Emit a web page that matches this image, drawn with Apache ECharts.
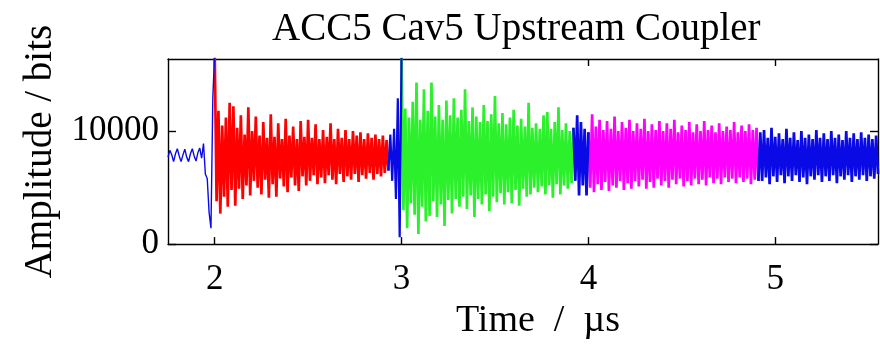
<!DOCTYPE html>
<html>
<head>
<meta charset="utf-8">
<script src="https://cdn.jsdelivr.net/npm/echarts@6/dist/echarts.min.js"></script>
<style>
  html, body { margin: 0; padding: 0; background: #ffffff; }
  #chart { width: 880px; height: 345px; }
</style>
</head>
<body>
<div id="chart"></div>
<script>
// Coupler probe waveform, sampled every 0.01 µs, split into the coloured sections.
const sampleStep = 0.01;            // µs between samples
const xTicks = [2, 3, 4, 5];        // µs
const yTicks = [0, 10000];          // bits

// Lead-in before the first pulse (blue)
const leadStart = 1.75;
const leadVals = [
  7700, 8300, 7900, 7300, 8000, 8450, 7800, 7300, 7900, 8400,
  7700, 7300, 8000, 8450, 7800, 7350, 8100, 8500, 7600, 8900,
  6200, 5800, 2800, 1400, 13000, 17000
];

// First pulse (red)
const redStart = 2.00;
const redVals = [
  17000, 3800, 11800, 2700, 10500, 4200, 11200, 3300, 12500, 4800,
  12200, 3400, 10300, 4900, 11400, 4000, 9700, 5200, 12100, 4300,
  10000, 5600, 11300, 5000, 9600, 4400, 10800, 5700, 9400, 4100,
  11500, 5300, 9500, 4200, 10700, 5800, 9300, 5100, 11100, 4600,
  9600, 5900, 10400, 5200, 9300, 4700, 10900, 6000, 9500, 5200,
  11000, 5600, 9400, 6100, 10600, 5300, 9300, 5900, 10100, 5400,
  9500, 6100, 10700, 5700, 9300, 5300, 10200, 6200, 9400, 5500,
  10100, 6000, 9300, 5700, 10000, 6200, 9600, 5500, 9900, 6100,
  9300, 5800, 9800, 6300, 9400, 5700, 9700, 6200, 9300, 6000,
  9600, 6300, 9200, 6500
];

// Gap between first and second pulse (blue)
const gap1Start = 2.93;
const gap1Vals = [6500, 9700, 5600, 10200, 4000, 12900, 600, 17000];

// Second pulse (green)
const greenStart = 3.00;
const greenVals = [
  17000, 3000, 12000, 1400, 11200, 3600, 12600, 2600, 14300, 900,
  11000, 3300, 13700, 2000, 11800, 2500, 14300, 3800, 11300, 2400,
  12300, 3500, 11000, 1600, 12700, 3900, 11400, 2700, 12900, 4000,
  11200, 3300, 11900, 4200, 13700, 3100, 10900, 4300, 12100, 2400,
  11300, 4000, 10800, 3500, 12300, 4400, 10900, 2900, 11500, 4200,
  13100, 3700, 10700, 4500, 11600, 3500, 10600, 4600, 11200, 3600,
  11900, 4800, 10500, 3400, 11100, 4900, 10400, 4200, 12500, 4400,
  10300, 5000, 10700, 4600, 10200, 5100, 11400, 4400, 11700, 5200,
  10200, 4100, 10800, 5300, 12100, 4400, 10100, 5200, 10700, 4900,
  10000, 5400, 10300
];

// Gap between second and third pulse (blue)
const gap2Start = 3.92;
const gap2Vals = [10300, 5600, 11400, 4300, 10800, 5200, 10200, 4300, 9900];

// Third pulse (magenta)
const magentaStart = 4.00;
const magentaVals = [
  9900, 5000, 11500, 4600, 10400, 5300, 11000, 4800, 10100, 5500,
  10900, 4700, 10200, 5200, 11300, 5000, 10000, 5600, 10800, 4800,
  10300, 5400, 11000, 4900, 10000, 5600, 10700, 5100, 10200, 5700,
  11100, 4900, 10000, 5500, 10600, 5000, 10100, 5800, 10900, 5200,
  10000, 5600, 10700, 5000, 10200, 5700, 11000, 5300, 9900, 5800,
  10500, 5100, 10100, 5600, 10800, 5200, 9900, 5800, 10600, 5300,
  10000, 5700, 10900, 5200, 10100, 5900, 10500, 5400, 9900, 5800,
  10700, 5300, 10000, 5900, 10400, 5500, 10100, 5800, 10800, 5400,
  9900, 5900, 10500, 5500, 10000, 5800, 10600, 5300, 10100, 5700,
  10300, 5600
];

// Tail after the third pulse (blue)
const tailStart = 4.91;
const tailVals = [
  5600, 9900, 5600, 10100, 5900, 9400, 5300, 10300, 6000, 9500,
  5500, 9800, 6100, 9300, 5400, 10200, 6000, 9400, 5600, 9900,
  6100, 9200, 5500, 10000, 5900, 9400, 5300, 9700, 6000, 9300,
  5700, 10100, 6100, 9400, 5500, 9800, 6000, 9300, 5600, 10000,
  6100, 9400, 5400, 9700, 6000, 9200, 5700, 10000, 6100, 9400,
  5500, 9800, 6000, 9300, 5700, 9900, 6100, 9400, 5600, 9700,
  6000, 9300, 5800, 9600, 6200
];

const BLUE = '#0a0ae6';
const RED = '#ff0000';
const GREEN = '#2cf02c';
const MAGENTA = '#ff00ff';

function toPoints(start, vals) {
  return vals.map((v, i) => [Math.round((start + i * sampleStep) * 1000) / 1000, v]);
}

function trace(name, start, vals, color, width) {
  return {
    name: name,
    type: 'line',
    xAxisIndex: 0,
    yAxisIndex: 0,
    data: toPoints(start, vals),
    showSymbol: false,
    symbol: 'none',
    sampling: null,
    clip: true,
    lineStyle: { color: color, width: width, join: 'miter', miterLimit: 2 },
    emphasis: { disabled: true },
    animation: false
  };
}

const FONT = 'Liberation Serif';
const frame = { show: true, onZero: false, lineStyle: { color: '#000000', width: 1.4 } };
const tickStyle = { color: '#000000', width: 1.4 };
const plainNumber = (v) => String(v);

const chart = echarts.init(document.getElementById('chart'), null, { renderer: 'canvas' });
chart.setOption({
  backgroundColor: '#ffffff',
  animation: false,
  title: {
    text: 'ACC5 Cav5 Upstream Coupler',
    left: 267,
    top: 5,
    textStyle: { fontFamily: FONT, fontSize: 39, fontWeight: 'normal', color: '#000000' }
  },
  grid: { left: 168, right: 2, top: 59, bottom: 91, containLabel: false },
  xAxis: [
    {
      type: 'value', min: 1.75, max: 5.55, position: 'bottom',
      name: 'Time\u2002/\u2002µs', nameLocation: 'middle', nameGap: 57,
      nameTextStyle: { fontFamily: FONT, fontSize: 38, color: '#000000', padding: [0, 0, 0, 30] },
      axisLine: frame,
      axisTick: { show: true, inside: true, length: 7, customValues: xTicks, lineStyle: tickStyle },
      axisLabel: { show: true, customValues: xTicks, margin: 18, fontFamily: FONT, fontSize: 35, color: '#000000', formatter: plainNumber },
      splitLine: { show: false }
    },
    {
      type: 'value', min: 1.75, max: 5.55, position: 'top',
      axisLine: frame,
      axisTick: { show: true, inside: true, length: 7, customValues: xTicks, lineStyle: tickStyle },
      axisLabel: { show: false },
      splitLine: { show: false }
    }
  ],
  yAxis: [
    {
      type: 'value', min: 0, max: 16384, position: 'left',
      name: 'Amplitude / bits', nameLocation: 'middle', nameGap: 93,
      nameTextStyle: { fontFamily: FONT, fontSize: 39, color: '#000000' },
      axisLine: frame,
      axisTick: { show: true, inside: true, length: 8, customValues: yTicks, lineStyle: tickStyle },
      axisLabel: { show: true, customValues: yTicks, margin: 9, fontFamily: FONT, fontSize: 35, color: '#000000', formatter: plainNumber },
      splitLine: { show: false }
    },
    {
      type: 'value', min: 0, max: 16384, position: 'right',
      axisLine: frame,
      axisTick: { show: true, inside: true, length: 8, customValues: yTicks, lineStyle: tickStyle },
      axisLabel: { show: false },
      splitLine: { show: false }
    }
  ],
  series: [
    trace('pulse 1', redStart, redVals, RED, 2.7),
    trace('pulse 2', greenStart, greenVals, GREEN, 2.7),
    trace('pulse 3', magentaStart, magentaVals, MAGENTA, 2.7),
    trace('lead-in', leadStart, leadVals, BLUE, 1.4),
    trace('gap 1', gap1Start, gap1Vals, BLUE, 2.2),
    trace('gap 2', gap2Start, gap2Vals, BLUE, 2.7),
    trace('tail', tailStart, tailVals, BLUE, 2.7)
  ]
});
</script>
</body>
</html>
